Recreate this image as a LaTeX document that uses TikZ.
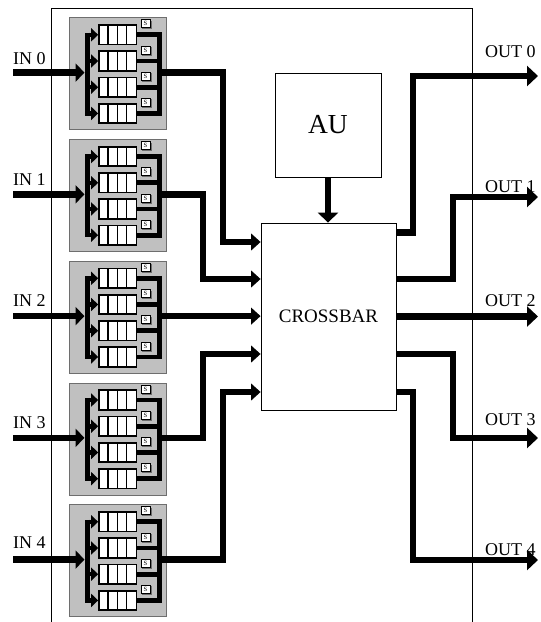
\documentclass[tikz,border=0pt]{standalone}
\usepackage{fontspec}
\setmainfont{Liberation Serif}
\usetikzlibrary{arrows.meta}
\definecolor{modgray}{RGB}{192,192,192}
\definecolor{modedge}{RGB}{110,110,110}
\begin{document}
\begin{tikzpicture}[x=1pt,y=-1pt,
  lbl/.style={inner sep=0pt, anchor=base west, font=\fontsize{18}{20}\selectfont},
  frame/.style={line width=0.9pt},
  module/.style={draw=modedge, fill=modgray, line width=0.8pt, minimum width=97pt, minimum height=112pt, inner sep=0pt, anchor=north west},
  queue/.style={draw, fill=white, line width=1.8pt, minimum width=37.5pt, minimum height=19.5pt, inner sep=0pt},
  cell/.style={line width=1.1pt},
  sbox/.style={draw, fill=white, line width=0.7pt, minimum width=9pt, minimum height=8pt, inner sep=0pt, font=\fontsize{6.5}{6.5}\selectfont},
  bus/.style={line width=5pt},
  fanin/.style={line width=4.8pt},
  branch/.style={line width=4.5pt, -{Triangle[length=7pt,width=13pt]}},
  inarrow/.style={line width=6.5pt, -{Triangle[length=9pt,width=18pt]}},
  xarrow/.style={line width=6.5pt, -{Triangle[length=9.5pt,width=16.5pt]}},
  outarrow/.style={line width=6.5pt, -{Triangle[length=11pt,width=20pt]}},
  auarrow/.style={line width=6pt, -{Triangle[length=10pt,width=20pt]}},
  block/.style={draw, line width=0.8pt, fill=white, inner sep=0pt}
]
\useasboundingbox (0,0) rectangle (541,622);

% outer frame (open at the bottom)
\draw[frame] (51,622) -- (51,8) -- (472,8) -- (472,622);

% input modules
\foreach \k in {0,...,4}{
  \pgfmathsetmacro\T{17.3+121.75*\k}
  \pgfmathsetmacro\Y{\T+55.3}
  \pgfmathsetmacro\ca{\T+17.5}
  \pgfmathsetmacro\cd{\T+17.5+3*26.2}
  \node[module] (m\k) at (69,\T) {};
  % left distribution bus and right collection bus
  \draw[bus] (87,\ca-2.25) -- (87,\cd+2.25);
  \draw[bus] (159,\ca-2.4) -- (159,\cd+2.4);
  \foreach \j in {0,...,3}{
    \pgfmathsetmacro\c{\T+17.5+26.2*\j}
    \node[queue] (q\k\j) at (117.8,\c) {};
    \draw[cell] (108,\c-9.75) -- (108,\c+9.75);
    \draw[cell] (117.3,\c-9.75) -- (117.3,\c+9.75);
    \draw[cell] (126.5,\c-9.75) -- (126.5,\c+9.75);
    \coordinate (bl\k\j) at (87,\c);
    \coordinate (br\k\j) at (159,\c);
    \draw[branch] (bl\k\j) -- (q\k\j.west);
    \draw[fanin] (q\k\j.east) -- (br\k\j);
    \draw[line width=1.6pt, draw=modedge] (142.2,\c-6.2) -- (150.8,\c-6.2) -- (150.8,\c-14);
    \node[sbox] (s\k\j) at (145.5,\c-11) {S};
  }
  \coordinate (in\k) at (13,\Y);
  \coordinate (mo\k) at (159,\Y);
  \draw[inarrow] (in\k) -- (84.5,\Y);
}

% AU and crossbar
\node[block, minimum width=106pt, minimum height=104pt, font=\fontsize{27.5}{30}\selectfont] (au) at (328,125) {AU};
\node[block, minimum width=135pt, minimum height=187pt, font=\fontsize{19}{22}\selectfont] (xbar) at (328.5,316.5) {CROSSBAR};
\draw[auarrow] (au.south) -- (au.south |- xbar.north);

% module outputs to crossbar
\draw[xarrow] (mo0) -| (223,242) -- (xbar.west |- 0,242);
\draw[xarrow] (mo1) -| (203,279) -- (xbar.west |- 0,279);
\draw[xarrow] (mo2) -- (xbar.west |- mo2);
\draw[xarrow] (mo3) -| (203,354) -- (xbar.west |- 0,354);
\draw[xarrow] (mo4) -| (223,392) -- (xbar.west |- 0,392);

% crossbar outputs
\coordinate (out0) at (538,76);
\coordinate (out1) at (538,197);
\coordinate (out2) at (538,316.5);
\coordinate (out3) at (538,438);
\coordinate (out4) at (538,560);
\draw[outarrow] (xbar.east |- 0,232.5) -| (413,76) -- (out0);
\draw[outarrow] (xbar.east |- 0,279) -| (453,197) -- (out1);
\draw[outarrow] (xbar.east |- out2) -- (out2);
\draw[outarrow] (xbar.east |- 0,354) -| (453,438) -- (out3);
\draw[outarrow] (xbar.east |- 0,392) -| (413,560) -- (out4);

% input labels
\foreach \k/\b in {0/64,1/185,2/306,3/428,4/548}{
  \node[lbl] (inl\k) at (13,\b) {IN \k};
}
% output labels
\foreach \k/\b in {0/57,1/192,2/306,3/425,4/555}{
  \node[lbl] (outl\k) at (485,\b) {OUT \k};
}
\end{tikzpicture}
\end{document}
